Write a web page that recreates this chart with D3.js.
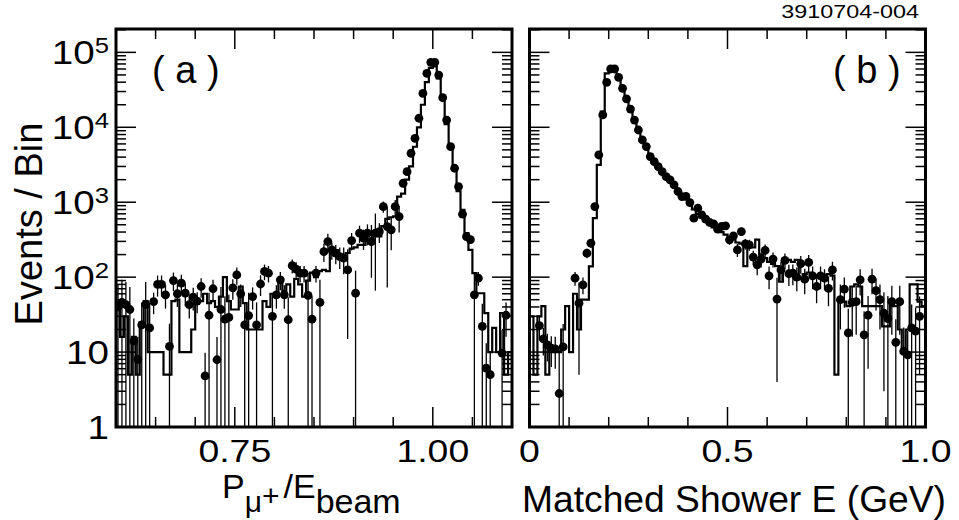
<!DOCTYPE html>
<html><head><meta charset="utf-8">
<script src="https://cdn.jsdelivr.net/npm/d3@7"></script>
<style>
body{margin:0;background:#fff;}
text{font-family:"Liberation Sans",Arial,Helvetica,sans-serif;fill:#000;}
</style></head><body>
<svg id="c" width="959" height="520"></svg>
<script>
// ---------- data ----------
const rangeA = [0.6, 1.1];     // P/Ebeam axis range, 100 bins
const rangeB = [0.0, 1.0];     // matched shower energy (GeV), 100 bins
const yRange = [1, 2.05e5];

const dataA = [40,46,43,37,14,8,23,43,21,47, 80,80,58,11.9,90,60,83,61,43,54,
  48,75,4.8,31,70,7.9,37,27.5,29,72, 107,60,23,30.7,55,23,81,119,113,30,
  58,92,58,27,142,128,113,113,57,27.5, 113,46,219,298,231,209,188,179,125,308,
  61,386,331,386,298,386,405,873,473,428, 873,643,1790,2560,4500,7130,13200,28400,52500,73600,
  73600,49800,24800,12500,5510,2840,1615,692,348,316, 58,97,22,6.1,5,0,0,9.7,31,0];
const errA = [40,46,43,37,14,8,23,43,21,15, 25,25,20,12,25,20,25,20,15,18,
  15,22,5,31,22,8,37,28,29,22, 28,20,23,31,18,23,25,28,28,30,
  20,25,20,27,30,30,28,28,57,28, 28,46,60,80,60,60,60,70,110,80,
  61,100,100,120,200,320,120,150,400,200, 200,250,150,150,200,250,300,400,500,500,
  500,400,300,200,150,110,80,60,40,35, 58,20,22,7,5,0,0,10,15,0];
const mcA = [46,16,30,5,16,5,25,48,10,10, 10,10,5,5,48,50,10,10,10,20,
  48,48,60,45,48,40,55,100,48,37, 37,75,45,20,20,20,20,48,40,60,
  55,85,65,80,55,95,80,55,90,115, 100,120,125,120,230,230,200,195,210,240,
  250,270,270,300,330,370,350,480,600,630, 650,1190,1300,2000,3000,5500,10000,20000,40000,62000,
  65000,45000,24000,11000,5500,2800,1400,790,386,231, 113,61,61,33,10,21,10,33,5,10];

const dataB = [0,0,22.5,15,12.5,11.3,11,2.8,11.7,0, 0,97,45,79,209,284,874,4270,14600,39800,
  60000,60000,46400,33100,23900,17500,12500,9200,6770,5520, 4060,3480,2990,2560,2200,1990,1700,1390,1190,1200,
  990,612,832,678,593,536,514,437,474,483, 315,356,231,406,278,270,185,146,174,227,
  104,174,51,125,167,111,113,100,151,94, 157,104,75,104,97,71,125,0,50,69,
  18,46,47,92,17,31,94,66,50,33, 28,47,13.5,47,10.2,9.2,21,19,30,0];
const errB = [0,0,8,6,5,5,5,8,12,0, 0,20,40,20,30,40,60,150,300,500,
  600,600,500,400,350,300,250,200,180,160, 140,120,110,100,95,90,85,80,75,75,
  70,60,65,60,55,55,55,50,50,50, 45,45,45,50,45,45,40,40,40,45,
  35,40,47,35,40,35,35,35,40,35, 40,35,30,35,30,30,35,0,30,30,
  20,30,30,35,18,25,35,30,30,30, 28,30,14,30,11,10,22,20,25,0];
const mcB = [30,5,30,41,5,10,10,10,20,41, 10,60,20,50,50,139,612,3150,16200,52500,
  58000,58000,48000,34000,24000,17000,12500,9300,7000,5500, 4300,3500,2900,2500,2150,1900,1650,1400,1200,1100,
  950,800,700,620,560,500,460,430,400,370, 330,320,290,280,140,280,250,316,200,180,
  160,150,140,87,170,170,160,170,95,110, 115,110,105,110,100,110,105,5,47,47,
  41,75,80,75,41,41,41,41,41,22, 22,41,41,20,10,20,80,80,47,41];

const xTicksA = [0.75, 1.00];  const xTickLabelsA = ["0.75", "1.00"];
const xMinorA = d3.range(0.6, 1.1001, 0.05);
const xTicksB = [0, 0.5, 1.0]; const xTickLabelsB = ["0", "0.5", "1.0"];
const xMinorB = d3.range(0, 1.0001, 0.1);
const yTickVals = [1, 10, 100, 1000, 10000, 100000];
const yTickBase = ["1", "10", "10", "10", "10", "10"];
const yTickExp  = ["", "", "2", "3", "4", "5"];

// ---------- layout ----------
const svg = d3.select("#c");
const yTop = 29, yBot = 427;
const y = d3.scaleLog().domain(yRange).range([yBot, yTop]);
const xa = d3.scaleLinear().domain(rangeA).range([116, 512]);
const xb = d3.scaleLinear().domain(rangeB).range([529.5, 925.5]);

function panel(id, x, range, data, err, mc, minor, major) {
  const g = svg.append("g");
  const [x0, x1] = x.range();
  g.append("clipPath").attr("id", id).append("rect")
    .attr("x", x0).attr("y", yTop).attr("width", x1 - x0).attr("height", yBot - yTop);
  const n = data.length, w = (range[1] - range[0]) / n;
  const edge = i => range[0] + w * i;
  const plot = g.append("g").attr("clip-path", `url(#${id})`);
  const pts = mc.map((v, i) => [edge(i), v]);
  pts.push([edge(n), mc[n - 1]]);
  const yc = v => v > 0 ? Math.min(yBot + 5, y(v)) : yBot + 5;
  plot.append("path")
    .attr("d", d3.line().x(d => x(d[0])).y(d => yc(d[1])).curve(d3.curveStepAfter)(pts))
    .attr("fill", "none").attr("stroke", "#000").attr("stroke-width", 2.2);
  const pd = data.map((v, i) => ({v, e: err[i], c: edge(i) + w / 2})).filter(d => d.v > 0);
  plot.selectAll("line.err").data(pd).enter().append("line")
    .attr("x1", d => x(d.c)).attr("x2", d => x(d.c))
    .attr("y1", d => y(d.v + d.e))
    .attr("y2", d => yc(d.v - d.e))
    .attr("stroke", "#000").attr("stroke-width", 1.3);
  plot.selectAll("circle").data(pd).enter().append("circle")
    .attr("cx", d => x(d.c)).attr("cy", d => y(d.v)).attr("r", 4.4).attr("fill", "#000");
  const tk = g.append("g").attr("stroke", "#000").attr("stroke-width", 1.5);
  minor.forEach(t => {
    const L = major.some(m => Math.abs(m - t) < 1e-6) ? 20 : 10;
    const px = x(t);
    tk.append("line").attr("x1", px).attr("x2", px).attr("y1", yBot).attr("y2", yBot - L);
    tk.append("line").attr("x1", px).attr("x2", px).attr("y1", yTop).attr("y2", yTop + L);
  });
  for (let d = 0; d <= 5; d++) {
    for (let k = 1; k <= 9; k++) {
      const v = k * Math.pow(10, d);
      if (v > yRange[1]) break;
      const L = k === 1 ? 20 : 10, py = y(v);
      tk.append("line").attr("x1", x0).attr("x2", x0 + L).attr("y1", py).attr("y2", py);
      tk.append("line").attr("x1", x1).attr("x2", x1 - L).attr("y1", py).attr("y2", py);
    }
  }
  g.append("rect").attr("x", x0).attr("y", yTop).attr("width", x1 - x0).attr("height", yBot - yTop)
    .attr("fill", "none").attr("stroke", "#000").attr("stroke-width", 3);
}

panel("clipA", xa, rangeA, dataA, errA, mcA, xMinorA, xTicksA);
panel("clipB", xb, rangeB, dataB, errB, mcB, xMinorB, xTicksB);

const SX = 1.17;
function xLabels(x, ticks, labels) {
  ticks.forEach((t, i) => {
    svg.append("text").attr("transform", `translate(${x(t)},462) scale(${SX},1)`)
      .attr("text-anchor", "middle").attr("font-size", 32).text(labels[i]);
  });
}
xLabels(xa, xTicksA, xTickLabelsA);
xLabels(xb, xTicksB, xTickLabelsB);

yTickVals.forEach((v, i) => {
  const t = svg.append("text").attr("transform", `translate(109,${y(v) + 11.5}) scale(${SX},1)`)
    .attr("text-anchor", "end");
  t.append("tspan").attr("font-size", 33).text(yTickBase[i]);
  if (yTickExp[i]) t.append("tspan").attr("font-size", 22).attr("dy", -10.5).text(yTickExp[i]);
});

svg.append("text").attr("transform", "translate(42,224) rotate(-90)")
  .attr("text-anchor", "middle").attr("font-size", 38).text("Events / Bin");
const ta = svg.append("text").attr("x", 222).attr("y", 498).attr("font-size", 34);
ta.append("tspan").text("P");
ta.append("tspan").attr("font-size", 30).attr("dy", 14).text("μ");
ta.append("tspan").attr("font-size", 30).attr("dy", -6).text("+");
ta.append("tspan").attr("dy", -8).attr("dx", 4).text("/E");
ta.append("tspan").attr("dy", 15).text("beam");
svg.append("text").attr("x", 522).attr("y", 512).attr("font-size", 37)
  .attr("textLength", 424).attr("lengthAdjust", "spacingAndGlyphs").text("Matched Shower E (GeV)");

svg.append("text").attr("x", 152).attr("y", 83).attr("font-size", 38).attr("xml:space", "preserve").text("( a )");
svg.append("text").attr("x", 833).attr("y", 83).attr("font-size", 38).attr("xml:space", "preserve").text("( b )");
svg.append("text").attr("transform", "translate(919,18) scale(1.3,1)").attr("text-anchor", "end")
  .attr("font-size", 18).text("3910704-004");
</script>
</body></html>
